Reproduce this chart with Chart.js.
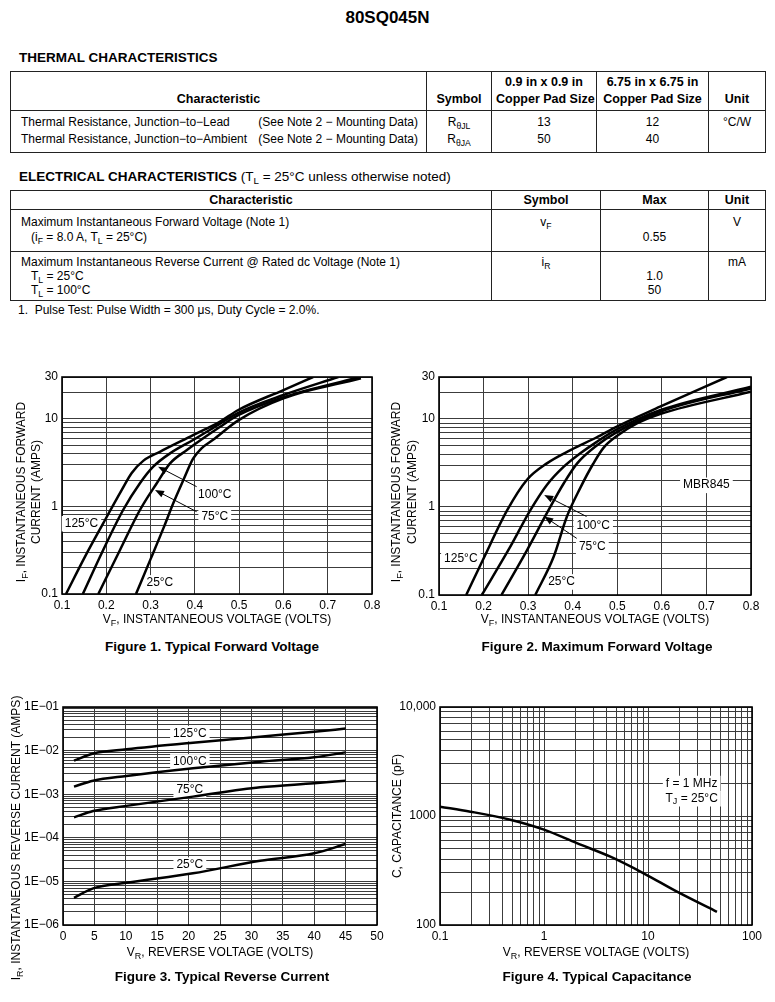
<!DOCTYPE html>
<html>
<head>
<meta charset="utf-8">
<script src="https://cdn.jsdelivr.net/npm/chart.js@4/dist/chart.umd.min.js"></script>
<style>
body { margin: 0; background: #fff; }
#page { position: relative; width: 775px; height: 1002px; overflow: hidden; color: #000;
  font-family: "Liberation Sans", Arial, sans-serif; }
.abs { position: absolute; white-space: nowrap; }
.cap { position: absolute; width: 340px; text-align: center; font: bold 13.5px/16px "Liberation Sans", Arial, sans-serif; }
table { position: absolute; border-collapse: collapse; table-layout: fixed; font-size: 12px; }
th, td { border: 1px solid #222; padding: 0 4px; text-align: center; white-space: nowrap; }
th { font-weight: bold; font-size: 12.5px; }
td.lt { text-align: left; padding-left: 10px; padding-right: 8px; }
.sp { display: flex; justify-content: space-between; }
sub { font-size: 0.72em; vertical-align: -0.3em; line-height: 0; }
canvas { position: absolute; }
</style>
</head>
<body>
<div id="page">
  <div class="abs" style="left:0;top:8px;width:775px;text-align:center;font:bold 17px/20px 'Liberation Sans',Arial,sans-serif;">80SQ045N</div>

  <div class="abs" style="left:19px;top:50px;font:bold 13.5px/16px 'Liberation Sans',Arial,sans-serif;">THERMAL CHARACTERISTICS</div>
  <table style="left:10px;top:71px;width:755px;">
    <colgroup><col style="width:416px"><col style="width:65px"><col style="width:105px"><col style="width:112px"><col style="width:57px"></colgroup>
    <tr style="height:39px;line-height:17px;">
      <th style="vertical-align:bottom;padding-bottom:2px;">Characteristic</th>
      <th style="vertical-align:bottom;padding-bottom:2px;">Symbol</th>
      <th style="vertical-align:bottom;padding-bottom:2px;">0.9 in x 0.9 in<br>Copper Pad Size</th>
      <th style="vertical-align:bottom;padding-bottom:2px;">6.75 in x 6.75 in<br>Copper Pad Size</th>
      <th style="vertical-align:bottom;padding-bottom:2px;">Unit</th>
    </tr>
    <tr style="height:42px;line-height:17px;vertical-align:top;">
      <td class="lt" style="padding-top:3px;">
        <div class="sp"><span>Thermal Resistance, Junction−to−Lead</span><span>(See Note 2 − Mounting Data)</span></div>
        <div class="sp"><span>Thermal Resistance, Junction−to−Ambient</span><span>(See Note 2 − Mounting Data)</span></div>
      </td>
      <td style="padding-top:3px;">R<sub>θJL</sub><br>R<sub>θJA</sub></td>
      <td style="padding-top:3px;">13<br>50</td>
      <td style="padding-top:3px;">12<br>40</td>
      <td style="padding-top:3px;">°C/W</td>
    </tr>
  </table>

  <div class="abs" style="left:19px;top:169px;font:13.5px/16px 'Liberation Sans',Arial,sans-serif;"><b>ELECTRICAL CHARACTERISTICS</b> (T<sub>L</sub> = 25°C unless otherwise noted)</div>
  <table style="left:10px;top:190px;width:755px;">
    <colgroup><col style="width:481px"><col style="width:109px"><col style="width:108px"><col style="width:57px"></colgroup>
    <tr style="height:19px;line-height:15px;">
      <th>Characteristic</th><th>Symbol</th><th>Max</th><th>Unit</th>
    </tr>
    <tr style="height:42px;line-height:15px;vertical-align:top;">
      <td class="lt" style="padding-top:5px;">Maximum Instantaneous Forward Voltage (Note 1)<br>&nbsp;&nbsp;&nbsp;(i<sub>F</sub> = 8.0 A, T<sub>L</sub> = 25°C)</td>
      <td style="padding-top:5px;">v<sub>F</sub></td>
      <td style="padding-top:5px;"><br>0.55</td>
      <td style="padding-top:5px;">V</td>
    </tr>
    <tr style="height:49px;line-height:14px;vertical-align:top;">
      <td class="lt" style="padding-top:3px;">Maximum Instantaneous Reverse Current @ Rated dc Voltage (Note 1)<br>&nbsp;&nbsp;&nbsp;T<sub>L</sub> = 25°C<br>&nbsp;&nbsp;&nbsp;T<sub>L</sub> = 100°C</td>
      <td style="padding-top:3px;">i<sub>R</sub></td>
      <td style="padding-top:3px;"><br>1.0<br>50</td>
      <td style="padding-top:3px;">mA</td>
    </tr>
  </table>
  <div class="abs" style="left:18px;top:302px;font:12px/16px 'Liberation Sans',Arial,sans-serif;">1.&nbsp;&nbsp;Pulse Test: Pulse Width = 300 μs, Duty Cycle = 2.0%.</div>

  <canvas id="fig1" width="390" height="273" style="left:0;top:362px;"></canvas>
  <canvas id="fig2" width="385" height="273" style="left:385px;top:362px;"></canvas>
  <canvas id="fig3" width="392" height="303" style="left:0;top:692px;"></canvas>
  <canvas id="fig4" width="385" height="275" style="left:385px;top:692px;"></canvas>

  <div class="cap" style="left:42px;top:639px;">Figure 1. Typical Forward Voltage</div>
  <div class="cap" style="left:427px;top:639px;">Figure 2. Maximum Forward Voltage</div>
  <div class="cap" style="left:52px;top:969px;">Figure 3. Typical Reverse Current</div>
  <div class="cap" style="left:427px;top:969px;">Figure 4. Typical Capacitance</div>
</div>

<script>
const FONT = '"Liberation Sans", Arial, sans-serif';

// ---- Figure 1: typical forward voltage (V, A) ----
const f1V125 = [0.109, 0.152, 0.193, 0.235, 0.257, 0.284, 0.321, 0.396, 0.457, 0.498, 0.6, 0.667];
const f1I125 = [0.1, 0.267, 0.64, 1.54, 2.39, 3.33, 4.2, 6.5, 9.3, 12.6, 21.3, 30];
const f1V100 = [0.147, 0.193, 0.238, 0.276, 0.306, 0.344, 0.396, 0.457, 0.498, 0.6, 0.724];
const f1I100 = [0.1, 0.318, 0.91, 1.84, 2.84, 4.03, 5.73, 8.8, 11.7, 18.7, 30];
const f1V75 = [0.182, 0.231, 0.276, 0.314, 0.344, 0.382, 0.457, 0.498, 0.6, 0.773];
const f1I75 = [0.1, 0.318, 0.91, 1.84, 3.1, 4.4, 8.1, 11.0, 17.6, 30];
const f1V25 = [0.267, 0.30, 0.33, 0.351, 0.375, 0.396, 0.415, 0.442, 0.498, 0.6, 0.775];
const f1I25 = [0.1, 0.25, 0.58, 1.08, 2.05, 3.5, 4.6, 5.8, 9.6, 17.1, 29];

// ---- Figure 2: maximum forward voltage (V, A) ----
const f2V125 = [0.161, 0.2, 0.253, 0.297, 0.342, 0.395, 0.454, 0.499, 0.596, 0.746];
const f2I125 = [0.1, 0.26, 0.92, 2.03, 3.13, 4.43, 6.2, 8.2, 13.8, 30];
const f2V100 = [0.196, 0.26, 0.305, 0.342, 0.38, 0.417, 0.454, 0.499, 0.596, 0.8];
const f2I100 = [0.1, 0.354, 0.92, 1.78, 2.87, 4.07, 5.5, 7.6, 12.6, 23.3];
const f2V75 = [0.24, 0.297, 0.342, 0.38, 0.41, 0.454, 0.499, 0.596, 0.8];
const f2I75 = [0.1, 0.32, 0.85, 1.86, 3.13, 5.0, 7.1, 12.1, 22.3];
const f2V25 = [0.316, 0.357, 0.387, 0.417, 0.446, 0.469, 0.499, 0.544, 0.596, 0.8];
const f2I25 = [0.1, 0.27, 0.78, 1.65, 3.1, 4.7, 6.4, 8.9, 11.4, 20.4];

// ---- Figure 3: typical reverse current (V, A) ----
const revV = [1.75, 4.8, 10.1, 20.7, 31.4, 40, 45];
const rev125 = [5.9e-3, 8.6e-3, 1.07e-2, 1.52e-2, 2.09e-2, 2.7e-2, 3.2e-2];
const rev100 = [1.49e-3, 2.04e-3, 2.61e-3, 3.92e-3, 5.57e-3, 7.0e-3, 9.1e-3];
const rev75 = [2.95e-4, 4.1e-4, 5.4e-4, 8.8e-4, 1.44e-3, 1.78e-3, 2.04e-3];
const rev25 = [4.2e-6, 6.9e-6, 9.3e-6, 1.53e-5, 2.98e-5, 4.4e-5, 7.2e-5];

// ---- Figure 4: typical capacitance (V, pF) ----
const capV = [0.1, 0.196, 0.474, 1, 2.07, 4.35, 9.08, 19, 46];
const capC = [1217, 1096, 925, 750, 563, 423, 298, 202, 132];

// ---- tick labels ----
const fwdXTicks = [0.1, 0.2, 0.3, 0.4, 0.5, 0.6, 0.7, 0.8];
const fwdXText = ['0.1', '0.2', '0.3', '0.4', '0.5', '0.6', '0.7', '0.8'];
const fwdYTicks = [0.1, 1, 10, 30];
const fwdYText = ['0.1', '1', '10', '30'];
const revXTicks = [0, 5, 10, 15, 20, 25, 30, 35, 40, 45, 50];
const revXText = ['0', '5', '10', '15', '20', '25', '30', '35', '40', '45', '50'];
const revYTicks = [1e-6, 1e-5, 1e-4, 1e-3, 1e-2, 1e-1];
const revYText = ['1E−06', '1E−05', '1E−04', '1E−03', '1E−02', '1E−01'];
const capXTicks = [0.1, 1, 10, 100];
const capXText = ['0.1', '1', '10', '100'];
const capYTicks = [100, 1000, 10000];
const capYText = ['100', '1000', '10,000'];

// gridline positions
function logGrid(lo, hi) {
  const out = [];
  for (let e = lo; e < hi; e++)
    for (let m = 1; m < 10; m++) out.push(m * Math.pow(10, e));
  out.push(Math.pow(10, hi));
  return out;
}
const fwdYGrid = logGrid(-1, 1).concat([20, 30]);
const revYGrid = logGrid(-6, -1);
const capXGrid = logGrid(-1, 2);
const capYGrid = logGrid(2, 4);

// ---- rich text (subscripts written as X_{sub}) ----
function richParts(str) {
  const out = [], re = /_\{([^}]*)\}/g;
  let last = 0, m;
  while ((m = re.exec(str))) {
    if (m.index > last) out.push({ t: str.slice(last, m.index), sub: false });
    out.push({ t: m[1], sub: true });
    last = re.lastIndex;
  }
  if (last < str.length) out.push({ t: str.slice(last), sub: false });
  return out;
}

function drawRich(ctx, str, x, y, size, opt = {}) {
  const parts = richParts(str);
  let w = 0;
  parts.forEach(p => {
    ctx.font = `${p.sub ? size * 0.75 : size}px ${FONT}`;
    p.w = ctx.measureText(p.t).width;
    w += p.w;
  });
  ctx.save();
  ctx.translate(x, y);
  if (opt.rot) ctx.rotate(opt.rot);
  if (opt.bg) {
    ctx.fillStyle = '#fff';
    ctx.fillRect(-w / 2 - opt.bg, -size * 0.62, w + 2 * opt.bg, size * 1.3);
  }
  ctx.fillStyle = '#000';
  ctx.textBaseline = 'middle';
  ctx.textAlign = 'left';
  let cx = -w / 2;
  parts.forEach(p => {
    ctx.font = `${p.sub ? size * 0.75 : size}px ${FONT}`;
    ctx.fillText(p.t, cx, p.sub ? size * 0.3 : 0);
    cx += p.w;
  });
  ctx.restore();
}

// frame, curve labels, arrows and axis titles
const sheetDecor = {
  id: 'sheetDecor',
  beforeDatasetsDraw(chart, args, o) {
    const a = chart.chartArea, ctx = chart.ctx;
    ctx.save();
    ctx.strokeStyle = '#000';
    ctx.lineWidth = 1.6;
    ctx.strokeRect(a.left, a.top, a.right - a.left, a.bottom - a.top);
    ctx.restore();
    const xs = chart.scales.x, ys = chart.scales.y;
    (o.notes || []).forEach(n =>
      drawRich(ctx, n.text, xs.getPixelForValue(n.x), ys.getPixelForValue(n.y), 12, { bg: 3 }));
  },
  afterDatasetsDraw(chart, args, o) {
    const ctx = chart.ctx, xs = chart.scales.x, ys = chart.scales.y;
    (o.arrows || []).forEach(ar => {
      const x0 = xs.getPixelForValue(ar.from[0]), y0 = ys.getPixelForValue(ar.from[1]);
      const x1 = xs.getPixelForValue(ar.to[0]), y1 = ys.getPixelForValue(ar.to[1]);
      const ang = Math.atan2(y1 - y0, x1 - x0);
      ctx.save();
      ctx.strokeStyle = '#000';
      ctx.fillStyle = '#000';
      ctx.lineWidth = 1;
      ctx.beginPath();
      ctx.moveTo(x0, y0);
      ctx.lineTo(x1 - 6 * Math.cos(ang), y1 - 6 * Math.sin(ang));
      ctx.stroke();
      ctx.translate(x1, y1);
      ctx.rotate(ang);
      ctx.beginPath();
      ctx.moveTo(0, 0);
      ctx.lineTo(-9, -3.5);
      ctx.lineTo(-9, 3.5);
      ctx.closePath();
      ctx.fill();
      ctx.restore();
    });
  },
  afterDraw(chart, args, o) {
    (o.titles || []).forEach(t => drawRich(chart.ctx, t.text, t.x, t.y, 12, { rot: t.rot }));
  }
};

function axis(type, min, max, grid, tickVals, tickText, size) {
  return {
    type, min, max,
    afterBuildTicks: s => { s.ticks = grid.map(v => ({ value: v })); },
    afterFit: s => { if (s.isHorizontal()) s.height = size; else s.width = size; },
    grid: { color: '#3c3c3c', lineWidth: 1, drawTicks: false },
    border: { display: false },
    ticks: {
      autoSkip: false, maxRotation: 0, padding: 4, color: '#000',
      font: { family: FONT, size: 12 },
      callback: v => {
        const i = tickVals.findIndex(l => Math.abs(l - v) <= Math.abs(l) * 1e-6 + 1e-12);
        return i >= 0 ? tickText[i] : '';
      }
    }
  };
}

function curve(xs, ys) {
  return {
    data: xs.map((x, i) => ({ x, y: ys[i] })),
    borderColor: '#000', borderWidth: 2.5, pointRadius: 0,
    cubicInterpolationMode: 'monotone', fill: false
  };
}

function sheetChart(id, datasets, x, y, pad, decor) {
  return new Chart(document.getElementById(id), {
    type: 'line',
    data: { datasets },
    options: {
      responsive: false, animation: false, events: [],
      layout: { padding: pad },
      scales: { x, y },
      plugins: { legend: { display: false }, tooltip: { enabled: false }, sheetDecor: decor }
    },
    plugins: [sheetDecor]
  });
}

const V_TITLE = 'V_{F}, INSTANTANEOUS VOLTAGE (VOLTS)';
const I_TITLE1 = 'I_{F}, INSTANTANEOUS FORWARD';
const I_TITLE2 = 'CURRENT (AMPS)';
const UP = -Math.PI / 2;

sheetChart('fig1',
  [curve(f1V125, f1I125), curve(f1V100, f1I100), curve(f1V75, f1I75), curve(f1V25, f1I25)],
  axis('linear', 0.1, 0.8, fwdXTicks, fwdXTicks, fwdXText, 41),
  axis('logarithmic', 0.1, 30, fwdYGrid, fwdYTicks, fwdYText, 62),
  { left: 0, right: 18, top: 15, bottom: 0 },
  {
    notes: [
      { x: 0.144, y: 0.64, text: '125°C' },
      { x: 0.445, y: 1.35, text: '100°C' },
      { x: 0.445, y: 0.76, text: '75°C' },
      { x: 0.321, y: 0.135, text: '25°C' }
    ],
    arrows: [
      { from: [0.404, 1.68], to: [0.317, 2.84] },
      { from: [0.404, 0.87], to: [0.31, 1.54] }
    ],
    titles: [
      { text: V_TITLE, x: 217, y: 258 },
      { text: I_TITLE1, x: 22, y: 130, rot: UP },
      { text: I_TITLE2, x: 37, y: 130, rot: UP }
    ]
  });

sheetChart('fig2',
  [curve(f2V125, f2I125), curve(f2V100, f2I100), curve(f2V75, f2I75), curve(f2V25, f2I25)],
  axis('linear', 0.1, 0.8, fwdXTicks, fwdXTicks, fwdXText, 40),
  axis('logarithmic', 0.1, 30, fwdYGrid, fwdYTicks, fwdYText, 54),
  { left: 0, right: 19, top: 15, bottom: 0 },
  {
    notes: [
      { x: 0.149, y: 0.26, text: '125°C' },
      { x: 0.446, y: 0.62, text: '100°C' },
      { x: 0.444, y: 0.35, text: '75°C' },
      { x: 0.375, y: 0.142, text: '25°C' },
      { x: 0.70, y: 1.78, text: 'MBR845' }
    ],
    arrows: [
      { from: [0.431, 0.78], to: [0.336, 1.37] },
      { from: [0.409, 0.44], to: [0.336, 0.78] }
    ],
    titles: [
      { text: V_TITLE, x: 210, y: 258 },
      { text: I_TITLE1, x: 12, y: 130, rot: UP },
      { text: I_TITLE2, x: 28, y: 130, rot: UP }
    ]
  });

sheetChart('fig3',
  [curve(revV, rev125), curve(revV, rev100), curve(revV, rev75), curve(revV, rev25)],
  axis('linear', 0, 50, revXTicks, revXTicks, revXText, 70),
  axis('logarithmic', 1e-6, 1e-1, revYGrid, revYTicks, revYText, 63),
  { left: 0, right: 15, top: 15, bottom: 0 },
  {
    notes: [
      { x: 20.2, y: 2.5e-2, text: '125°C' },
      { x: 20.2, y: 5.6e-3, text: '100°C' },
      { x: 20.2, y: 1.25e-3, text: '75°C' },
      { x: 20.2, y: 2.4e-5, text: '25°C' }
    ],
    titles: [
      { text: 'V_{R}, REVERSE VOLTAGE (VOLTS)', x: 220, y: 261 },
      { text: 'I_{R}, INSTANTANEOUS REVERSE CURRENT (AMPS)', x: 17, y: 146, rot: UP }
    ]
  });

sheetChart('fig4',
  [curve(capV, capC)],
  axis('logarithmic', 0.1, 100, capXGrid, capXTicks, capXText, 42),
  axis('logarithmic', 100, 10000, capYGrid, capYTicks, capYText, 55),
  { left: 0, right: 18, top: 15, bottom: 0 },
  {
    notes: [
      { x: 26.3, y: 2000, text: 'f = 1 MHz' },
      { x: 26.3, y: 1452, text: 'T_{J} = 25°C' }
    ],
    titles: [
      { text: 'V_{R}, REVERSE VOLTAGE (VOLTS)', x: 211, y: 261 },
      { text: 'C, CAPACITANCE (pF)', x: 13, y: 124, rot: UP }
    ]
  });
</script>
</body>
</html>
